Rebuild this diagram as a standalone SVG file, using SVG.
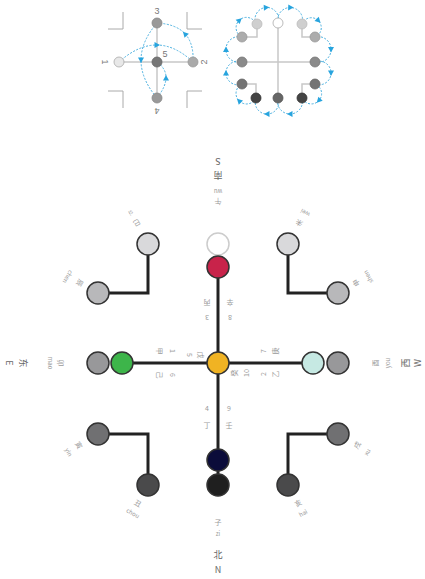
<svg xmlns="http://www.w3.org/2000/svg" xmlns:xlink="http://www.w3.org/1999/xlink" width="425" height="579" viewBox="0 0 425 579">
<style>
.ln{stroke:#222;stroke-width:3;fill:none;stroke-linecap:square}
.nd{stroke:#333;stroke-width:1.5}
.t{font-family:"Noto Sans CJK SC","Liberation Sans",sans-serif;font-size:7px;fill:#9a9a9a;text-anchor:middle;dominant-baseline:central}
.py{font-size:6px}
.dir{font-size:9px;fill:#666}
.num{font-family:"Liberation Sans",sans-serif;font-size:9px;fill:#777;text-anchor:middle;dominant-baseline:central}
.sl{stroke:#c8c8c8;stroke-width:1.5;fill:none}
.br{stroke:#aaa;stroke-width:1;fill:none}
.dash{stroke:#4ab0e0;stroke-width:1;stroke-dasharray:2 1.5;fill:none}
.arr{fill:#27a4de}
.sc{stroke-width:0.8}
</style>
<defs>
<path id="tri" d="M3,0 L-2.5,-3 L-2.5,3 Z"/>
</defs>
<rect width="425" height="579" fill="#fff"/>

<!-- small left diagram -->
<g id="mini-left">
<path class="br" d="M108,29 H123 V12 M187,12 V29 H202 M108,91 H123 V108 M187,108 V91 H202"/>
<path class="sl" d="M157,23 V98 M119,62 H193"/>
<g>
<path class="dash" d="M119,62 Q157,28 193,62"/>
<path class="dash" d="M193,62 Q195,25 157,23"/>
<path class="dash" d="M157,23 Q125,60 157,98"/>
<path class="dash" d="M157,98 Q175,75 157,62"/>
<use href="#tri" class="arr" transform="translate(157,45) rotate(0)"/>
<use href="#tri" class="arr" transform="translate(185,34) rotate(-133)"/>
<use href="#tri" class="arr" transform="translate(141,60) rotate(90)"/>
<use href="#tri" class="arr" transform="translate(166,78) rotate(-90)"/>
</g>
<circle cx="157" cy="23" r="5" fill="#999" stroke="#888" class="sc"/>
<circle cx="157" cy="62" r="5" fill="#777" stroke="#666" class="sc"/>
<circle cx="119" cy="62" r="5" fill="#e8e8e8" stroke="#aaa" class="sc"/>
<circle cx="193" cy="62" r="5" fill="#aaa" stroke="#999" class="sc"/>
<circle cx="157" cy="98" r="5" fill="#999" stroke="#888" class="sc"/>
<text class="num" x="157" y="11">3</text>
<text class="num" x="165" y="54">5</text>
<text class="num" transform="translate(105,62) rotate(90)">1</text>
<text class="num" transform="translate(204,62) rotate(-90)">2</text>
<text class="num" transform="translate(157,111) rotate(180)">4</text>
</g>

<!-- small right diagram -->
<g id="mini-right">
<path class="sl" d="M278,23 V98 M242,62 H315 M257,24 V37 H242 M302,24 V37 H315 M242,84 H256 V98 M315,84 H302 V98"/>
<path class="dash" d="M278,23 A12.5,12.5 0 1 1 302,24 A10,10 0 1 1 315,37 A12.9,12.9 0 1 1 315,62 A11.8,11.8 0 1 1 315,84 A10.3,10.3 0 1 1 302,98 A12.5,12.5 0 1 1 278,98 A11.8,11.8 0 1 1 256,98 A10.5,10.5 0 1 1 242,84 A11.8,11.8 0 1 1 242,62 A12.9,12.9 0 1 1 242,37 A10.3,10.3 0 1 1 256,24 A11.8,11.8 0 1 1 278,23"/>
<use href="#tri" class="arr" transform="translate(290.7,7.5) rotate(2)"/>
<use href="#tri" class="arr" transform="translate(318.4,20.6) rotate(45)"/>
<use href="#tri" class="arr" transform="translate(331,49.5) rotate(90)"/>
<use href="#tri" class="arr" transform="translate(331,73) rotate(90)"/>
<use href="#tri" class="arr" transform="translate(318.8,100.5) rotate(133)"/>
<use href="#tri" class="arr" transform="translate(290,114) rotate(180)"/>
<use href="#tri" class="arr" transform="translate(267,114) rotate(180)"/>
<use href="#tri" class="arr" transform="translate(239.1,100.9) rotate(225)"/>
<use href="#tri" class="arr" transform="translate(226,73) rotate(270)"/>
<use href="#tri" class="arr" transform="translate(226,49.5) rotate(270)"/>
<use href="#tri" class="arr" transform="translate(239.5,20.2) rotate(-43)"/>
<use href="#tri" class="arr" transform="translate(266.3,7.5) rotate(-3)"/>
<circle cx="278" cy="23" r="5" fill="#fff" stroke="#aaa" class="sc"/>
<circle cx="257" cy="24" r="5" fill="#cfcfcf" stroke="#bbb" class="sc"/>
<circle cx="302" cy="24" r="5" fill="#cfcfcf" stroke="#bbb" class="sc"/>
<circle cx="242" cy="37" r="5" fill="#acacac" stroke="#999" class="sc"/>
<circle cx="315" cy="37" r="5" fill="#acacac" stroke="#999" class="sc"/>
<circle cx="242" cy="62" r="5" fill="#8a8a8a" stroke="#777" class="sc"/>
<circle cx="315" cy="62" r="5" fill="#8a8a8a" stroke="#777" class="sc"/>
<circle cx="242" cy="84" r="5" fill="#747474" stroke="#666" class="sc"/>
<circle cx="315" cy="84" r="5" fill="#747474" stroke="#666" class="sc"/>
<circle cx="256" cy="98" r="5" fill="#444" stroke="#333" class="sc"/>
<circle cx="278" cy="98" r="5" fill="#666" stroke="#555" class="sc"/>
<circle cx="302" cy="98" r="5" fill="#444" stroke="#333" class="sc"/>
</g>

<!-- connectors -->
<g id="connectors">
<path class="ln" d="M218,267 V485"/>
<path class="ln" d="M122,363 H313"/>
<path class="ln" d="M148,244 V293 H98"/>
<path class="ln" d="M288,244 V293 H338"/>
<path class="ln" d="M98,434 H148 V485"/>
<path class="ln" d="M338,434 H288 V485"/>
</g>

<!-- nodes -->
<g id="node-center"><circle class="nd" cx="218" cy="363" r="11" fill="#f0b323"/></g>
<g id="node-top-white"><circle cx="218" cy="244" r="11" fill="#fff" stroke="#ccc" stroke-width="1.5"/></g>
<g id="node-top-red"><circle class="nd" cx="218" cy="267" r="11" fill="#c8234a"/></g>
<g id="node-bottom-navy"><circle class="nd" cx="218" cy="460" r="11" fill="#0b0c3a"/></g>
<g id="node-bottom-black"><circle class="nd" cx="218" cy="485" r="11" fill="#1f1f1f"/></g>
<g id="node-left-green"><circle class="nd" cx="122" cy="363" r="11" fill="#3db54a"/></g>
<g id="node-left-gray"><circle class="nd" cx="98" cy="363" r="11" fill="#98989a"/></g>
<g id="node-right-teal"><circle class="nd" cx="313" cy="363" r="11" fill="#c6e9e3"/></g>
<g id="node-right-gray"><circle class="nd" cx="338" cy="363" r="11" fill="#98989a"/></g>
<g id="node-si"><circle class="nd" cx="148" cy="244" r="11" fill="#d9d9db"/></g>
<g id="node-chen"><circle class="nd" cx="98" cy="293" r="11" fill="#b8b8ba"/></g>
<g id="node-wei"><circle class="nd" cx="288" cy="244" r="11" fill="#d9d9db"/></g>
<g id="node-shen"><circle class="nd" cx="338" cy="293" r="11" fill="#b8b8ba"/></g>
<g id="node-yin"><circle class="nd" cx="98" cy="434" r="11" fill="#707072"/></g>
<g id="node-chou"><circle class="nd" cx="148" cy="485" r="11" fill="#4a4a4b"/></g>
<g id="node-xu"><circle class="nd" cx="338" cy="434" r="11" fill="#707072"/></g>
<g id="node-hai"><circle class="nd" cx="288" cy="485" r="11" fill="#4a4a4b"/></g>

<!-- direction and branch labels -->
<g id="labels">
<text class="t" transform="translate(218,202) rotate(180)">午</text>
<text class="t py" transform="translate(218,191) rotate(180)">wu</text>
<text class="t dir" transform="translate(218,175) rotate(180)">南</text>
<text class="t dir" transform="translate(218,161) rotate(180)">S</text>
<text class="t" x="218" y="522">子</text>
<text class="t py" x="218" y="533">zi</text>
<text class="t dir" x="218" y="554">北</text>
<text class="t dir" x="218" y="569">N</text>
<text class="t" transform="translate(61,363) rotate(90)">卯</text>
<text class="t py" transform="translate(50,363) rotate(90)">mao</text>
<text class="t dir" transform="translate(23,363) rotate(90)">东</text>
<text class="t dir" transform="translate(9,363) rotate(90)">E</text>
<text class="t" transform="translate(375,363) rotate(-90)">酉</text>
<text class="t py" transform="translate(387,363) rotate(-90)">you</text>
<text class="t dir" transform="translate(405,363) rotate(-90)">西</text>
<text class="t dir" transform="translate(417,363) rotate(-90)">W</text>

<text class="t" transform="translate(137,223) rotate(150)">巳</text>
<text class="t py" transform="translate(131,213) rotate(150)">si</text>
<text class="t" transform="translate(80,283) rotate(120)">辰</text>
<text class="t py" transform="translate(68,277) rotate(120)">chen</text>
<text class="t" transform="translate(299,223) rotate(-150)">未</text>
<text class="t py" transform="translate(305,213) rotate(-150)">wei</text>
<text class="t" transform="translate(356,283) rotate(-120)">申</text>
<text class="t py" transform="translate(368,277) rotate(-120)">shen</text>
<text class="t" transform="translate(357,445) rotate(-60)">戌</text>
<text class="t py" transform="translate(367,452) rotate(-60)">xu</text>
<text class="t" transform="translate(298,503) rotate(-30)">亥</text>
<text class="t py" transform="translate(303,513) rotate(-30)">hai</text>
<text class="t" transform="translate(79,445) rotate(60)">寅</text>
<text class="t py" transform="translate(69,452) rotate(60)">yin</text>
<text class="t" transform="translate(138,503) rotate(30)">丑</text>
<text class="t py" transform="translate(133,513) rotate(30)">chou</text>

<!-- stems -->
<text class="t" transform="translate(207,303) rotate(180)">丙</text>
<text class="t" transform="translate(207,318) rotate(180)">3</text>
<text class="t" transform="translate(230,303) rotate(180)">辛</text>
<text class="t" transform="translate(230,318) rotate(180)">8</text>
<text class="t" x="207" y="408">4</text>
<text class="t" x="207" y="425">丁</text>
<text class="t" x="229" y="408">9</text>
<text class="t" x="229" y="425">壬</text>
<text class="t" transform="translate(160,351) rotate(90)">甲</text>
<text class="t" transform="translate(173,351) rotate(90)">1</text>
<text class="t" transform="translate(160,375) rotate(90)">己</text>
<text class="t" transform="translate(173,375) rotate(90)">6</text>
<text class="t" transform="translate(263,351) rotate(-90)">7</text>
<text class="t" transform="translate(275,351) rotate(-90)">庚</text>
<text class="t" transform="translate(263,374) rotate(-90)">2</text>
<text class="t" transform="translate(275,374) rotate(-90)">乙</text>
<text class="t" transform="translate(190,355) rotate(90)">5</text>
<text class="t" transform="translate(201,355) rotate(90)">戊</text>
<text class="t" transform="translate(234,373) rotate(-90)">癸</text>
<text class="t" transform="translate(246,373) rotate(-90)">10</text>
</g>
</svg>
